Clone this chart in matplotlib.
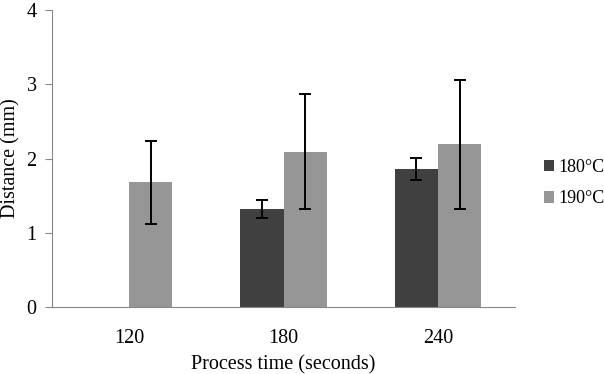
import numpy as np
import matplotlib.pyplot as plt

plt.rcParams['font.family'] = ['Liberation Serif', 'DejaVu Serif']

times = ['120', '180', '240']
d180 = [0, 1.32, 1.86]
e180 = [0, 0.125, 0.145]
d190 = [1.68, 2.09, 2.19]
e190 = [0.56, 0.775, 0.87]

fig = plt.figure(figsize=(6.04, 3.74), dpi=100)
ax = fig.add_axes([0.086, 0.179, 0.767, 0.794])

x = np.arange(len(times))
w = 0.28
ekw = dict(elinewidth=1.4, capsize=4, capthick=1.4, ecolor='black')
# no 180 bar at 120 s
m = np.array(d180) > 0
ax.bar(x[m] - w/2, np.array(d180)[m], w, yerr=np.array(e180)[m],
       color='#404040', label='180°C', error_kw=ekw)
ax.bar(x + w/2, d190, w, yerr=e190, color='#969696', label='190°C', error_kw=ekw)

ax.set_xlim(-0.5, 2.5)
ax.set_ylim(0, 4)
ax.set_xticks(x)
ax.set_xticklabels(times)
ax.set_yticks([0, 1, 2, 3, 4])
ax.tick_params(axis='x', length=0, labelsize=14.5, pad=16)
ax.tick_params(axis='y', length=5, color='#888888', labelsize=14.5, pad=6)
for s in ['top', 'right']:
    ax.spines[s].set_visible(False)
for s in ['left', 'bottom']:
    ax.spines[s].set_color('#888888')
ax.set_xlabel('Process time (seconds)', fontsize=14.5, labelpad=5)
ax.set_ylabel('Distance (mm)', fontsize=14.5)
ax.yaxis.set_label_coords(-0.068, 0.5)

h, l = ax.get_legend_handles_labels()
fig.legend(h, l, loc='center left', bbox_to_anchor=(0.873, 0.51), frameon=False,
           fontsize=13, handlelength=0.6, handleheight=0.6, handletextpad=0.2,
           labelspacing=0.8)

fig.savefig('out.png', dpi=100)
